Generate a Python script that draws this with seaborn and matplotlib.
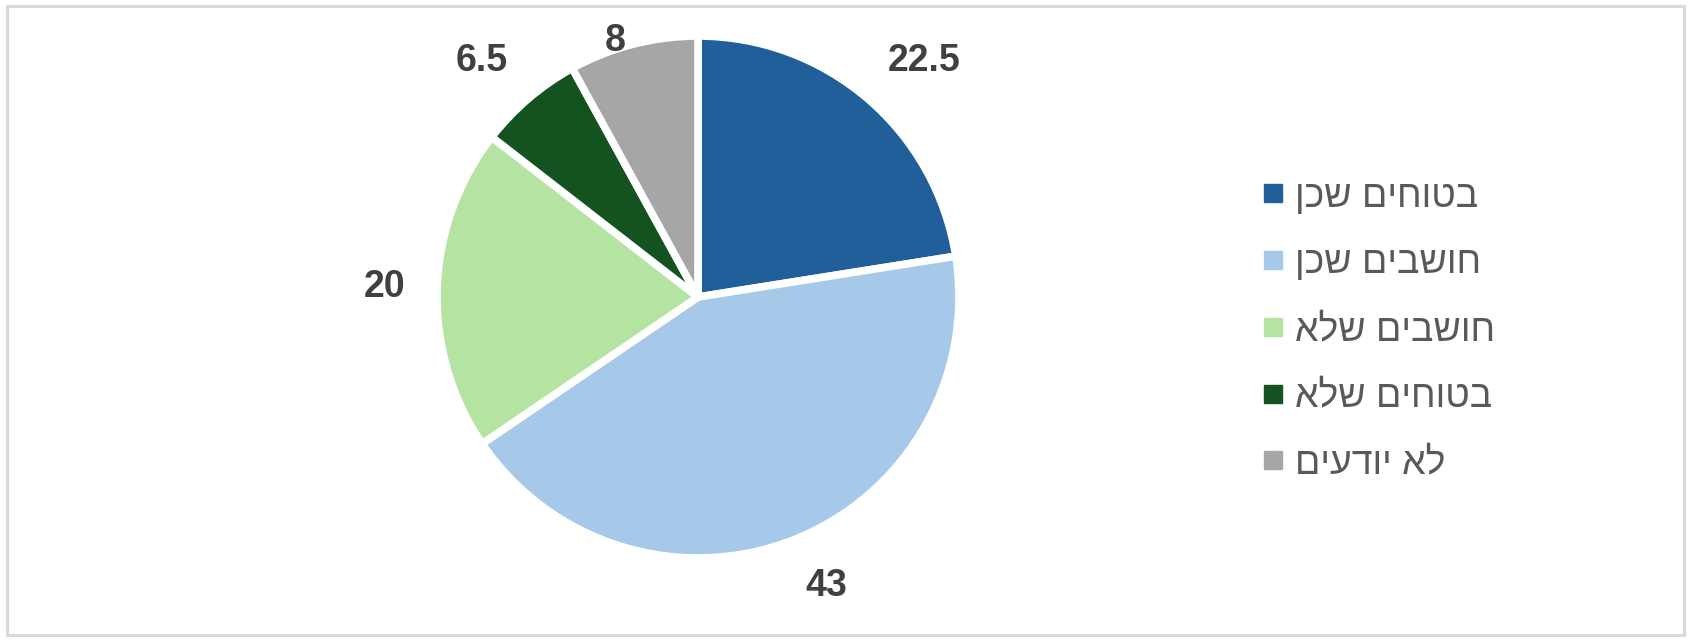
import numpy as np
import matplotlib
matplotlib.use("Agg")
import matplotlib.pyplot as plt
from matplotlib.lines import Line2D
from matplotlib.patches import Rectangle
import seaborn as sns

# נתונים
categories = ["בטוחים שכן", "חושבים שכן", "חושבים שלא", "בטוחים שלא", "לא יודעים"]
values = [22.5, 43, 20, 6.5, 8]
colors = ["#215F9A", "#A6C9EA", "#B5E4A2", "#145220", "#A6A6A6"]

sns.set_theme(style="white")
plt.rcParams["font.family"] = ["Liberation Sans", "DejaVu Sans"]

fig = plt.figure(figsize=(16.93, 6.41), dpi=100)

# pie axes: center ~ (698, 297) px, radius 261 px
R = 261 * 1.4
ax = fig.add_axes([(698 - R) / 1693, (641 - 297 - R) / 641, 2 * R / 1693, 2 * R / 641])
pal = sns.color_palette(colors)
wedges, _ = ax.pie(values, colors=pal, startangle=90, counterclock=False,
                   wedgeprops=dict(edgecolor="white", linewidth=5.5, joinstyle="round"))
ax.set_xlim(-1.4, 1.4)
ax.set_ylim(-1.4, 1.4)
ax.axis("off")

# תוויות ערכים מחוץ לפרוסות (כמו "קצה חיצוני" באקסל)
fig.canvas.draw()
rend = fig.canvas.get_renderer()
for w, v in zip(wedges, values):
    mid = np.deg2rad((w.theta1 + w.theta2) / 2)
    ux, uy = np.cos(mid), np.sin(mid)
    t = ax.text(0, 0, f"{v:g}", ha="center", va="center", fontsize=27,
                fontweight="bold", color="#404040")
    bb = t.get_window_extent(rend)
    hw = bb.width / 2 / 261
    hh = bb.height / 2 / 261
    x = 1.12 * ux + hw * np.sign(ux)
    y = 1.12 * uy + hh * uy
    y = min(y, 0.98)  # להשאיר בתוך אזור התרשים
    t.set_position((x, y))

# מקרא
handles = [Line2D([0], [0], marker="s", linestyle="none", markersize=12.5,
                  markerfacecolor=c, markeredgecolor=c) for c in colors]
labels = [c[::-1] for c in categories]  # כיוון מימין לשמאל
fig.legend(handles, labels, loc="center left", bbox_to_anchor=(1264 / 1693, 1 - 330 / 641),
           frameon=False, fontsize=27, labelcolor="#595959", labelspacing=0.82,
           handlelength=0.5, handletextpad=0.33, borderpad=0, borderaxespad=0)

# מסגרת
fig.patches.append(Rectangle((7 / 1693, 6 / 641), 1677 / 1693, 629 / 641,
                             transform=fig.transFigure, fill=False,
                             edgecolor="#D9D9D9", linewidth=2.2))

fig.savefig("out.png", dpi=100, facecolor="white")
